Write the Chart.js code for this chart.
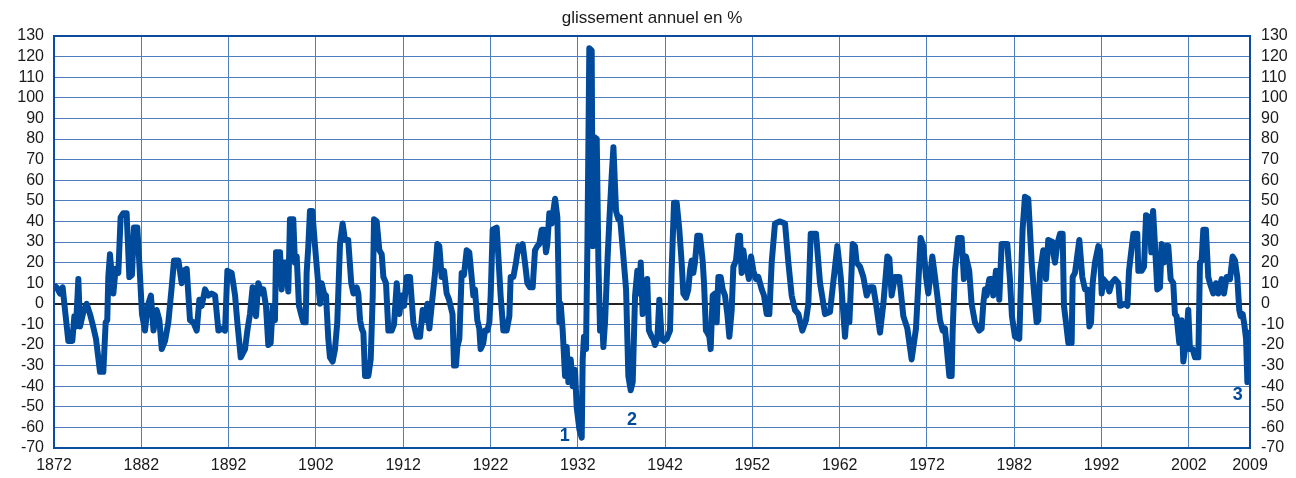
<!DOCTYPE html>
<html>
<head>
<meta charset="utf-8">
<script src="https://cdn.jsdelivr.net/npm/chart.js@4/dist/chart.umd.min.js"></script>
<style>
  html, body { margin: 0; padding: 0; background: #fff; }
  #wrap { width: 1296px; height: 478px; }
</style>
</head>
<body>
<div id="wrap"><canvas id="chart"></canvas></div>
<script>
// glissement annuel en % (1872-2009)
const years = [
  1872.0, 1872.3, 1872.69, 1872.99, 1873.26, 1873.64, 1874.1, 1874.33, 1874.52, 1874.79, 1874.98, 1875.36, 1875.74, 1876.12, 1876.43, 1876.81, 1877.27, 1877.65, 1877.92, 1878.1, 1878.22, 1878.41, 1878.8, 1879.06, 1879.37, 1879.63, 1879.94, 1880.32, 1880.63, 1880.93, 1881.16, 1881.54, 1881.77, 1882.08, 1882.42, 1882.73,
  1883.1, 1883.4, 1883.76, 1884.07, 1884.34, 1884.72, 1885.1, 1885.48, 1885.75, 1886.25, 1886.63, 1886.82, 1887.2, 1887.58, 1887.96, 1888.35, 1888.65, 1888.92, 1889.3, 1889.68, 1890.06, 1890.45, 1890.83, 1891.21, 1891.59, 1891.86, 1892.35, 1892.74, 1893.0, 1893.39, 1893.88, 1894.15, 1894.45,
  1894.75, 1895.14, 1895.4, 1895.79, 1895.98, 1896.28, 1896.55, 1896.82, 1897.05, 1897.31, 1897.43, 1897.89, 1898.08, 1898.27, 1898.57, 1898.84, 1899.03, 1899.41, 1899.6, 1899.8, 1900.06, 1900.37, 1900.56, 1900.83, 1900.94, 1901.13, 1901.32, 1901.59, 1901.9, 1902.16, 1902.47, 1902.66, 1902.93, 1903.16, 1903.42, 1903.61, 1903.92, 1904.19, 1904.45, 1904.76, 1905.06, 1905.33, 1905.7, 1906.05, 1906.3,
  1906.67, 1906.86, 1907.06, 1907.25, 1907.44, 1907.63, 1908.01, 1908.28, 1908.51, 1908.66, 1908.96, 1909.27, 1909.54, 1909.73, 1910.03, 1910.3, 1910.68, 1910.95, 1911.26, 1911.56, 1911.83, 1912.1, 1912.4, 1912.78, 1913.16, 1913.55, 1913.93, 1914.23, 1914.5, 1914.77, 1915.0, 1915.26, 1915.65, 1915.91, 1916.14, 1916.41, 1916.68, 1916.98, 1917.25,
  1917.65, 1917.82, 1918.05, 1918.2, 1918.43, 1918.7, 1918.96, 1919.27, 1919.57, 1919.84, 1920.03, 1920.22, 1920.49, 1920.72, 1920.87, 1921.18, 1921.37, 1921.64, 1921.87, 1922.02, 1922.25, 1922.71, 1922.9, 1923.16, 1923.47, 1923.85, 1924.16, 1924.31, 1924.62, 1924.92, 1925.19, 1925.45, 1925.68, 1925.95, 1926.22, 1926.52, 1926.83, 1927.1, 1927.36, 1927.59, 1927.86, 1928.13, 1928.36, 1928.51, 1928.74, 1929.0, 1929.4,
  1929.66, 1929.89, 1930.04, 1930.27, 1930.54, 1930.73, 1930.92, 1931.19, 1931.42, 1931.68, 1931.87, 1932.18, 1932.45, 1932.56, 1932.71, 1932.94, 1933.1, 1933.32, 1933.59, 1933.71, 1933.86, 1934.17, 1934.36, 1934.55, 1934.74, 1934.93, 1935.12, 1935.39, 1935.62, 1935.88, 1936.08, 1936.38, 1936.65, 1936.84, 1937.22, 1937.53, 1937.79, 1938.06, 1938.29, 1938.56, 1938.82, 1939.05, 1939.21, 1939.43, 1939.7, 1939.95, 1940.15, 1940.47, 1940.65, 1940.84,
  1941.11, 1941.34, 1941.61, 1941.87, 1942.18, 1942.56, 1942.75, 1943.02, 1943.33, 1943.63, 1943.9, 1944.09, 1944.4, 1944.66, 1944.85, 1945.04, 1945.23, 1945.42, 1945.69, 1946.0, 1946.3, 1946.46, 1946.68, 1946.84, 1947.07, 1947.22, 1947.45, 1947.72, 1947.91, 1948.1, 1948.37, 1948.6, 1948.86, 1949.13, 1949.36, 1949.63, 1949.82, 1950.12, 1950.39, 1950.58, 1950.77, 1950.96, 1951.15, 1951.42, 1951.6, 1951.85, 1952.11,
  1952.42, 1952.68, 1953.07, 1953.33, 1953.64, 1953.94, 1954.21, 1954.59, 1955.17, 1955.74, 1956.12, 1956.5, 1956.88, 1957.27, 1957.72, 1958.14, 1958.41, 1958.68, 1959.29, 1959.75, 1959.98, 1960.32, 1960.89, 1961.2, 1961.73, 1962.12, 1962.61, 1962.88, 1963.11,
  1963.49, 1963.75, 1963.94, 1964.33, 1964.71, 1965.09, 1965.47, 1965.85, 1966.16, 1966.62, 1967.0, 1967.46, 1967.69, 1967.95, 1968.33, 1968.83, 1969.29, 1969.75, 1970.24, 1970.74, 1971.01, 1971.27, 1971.58, 1971.89, 1972.15, 1972.61, 1972.92, 1973.18, 1973.49, 1973.8, 1974.06, 1974.56, 1974.83,
  1974.94, 1975.2, 1975.58, 1975.97, 1976.23, 1976.46, 1976.84, 1977.11, 1977.49, 1977.99, 1978.26, 1978.45, 1978.64, 1978.83, 1979.14, 1979.4, 1979.59, 1979.9, 1980.17, 1980.28, 1980.55, 1981.2, 1981.5, 1981.73, 1982.08, 1982.57, 1982.76, 1982.95, 1983.22, 1983.6, 1983.99, 1984.29, 1984.56, 1984.75, 1984.94, 1985.32, 1985.63, 1985.89, 1986.39,
  1986.5, 1986.66, 1986.93, 1987.24, 1987.54, 1987.69, 1987.92, 1988.19, 1988.57, 1988.69, 1988.95, 1989.14, 1989.45, 1989.79, 1990.1, 1990.37, 1990.6, 1990.79, 1990.98, 1991.24, 1991.63, 1991.82, 1992.01, 1992.2, 1992.58, 1992.89, 1993.15, 1993.54, 1993.92, 1994.11, 1994.68, 1994.95, 1995.14, 1995.33, 1995.64, 1996.09, 1996.21, 1996.59, 1996.86, 1997.09, 1997.5, 1997.7, 1997.9,
  1998.11, 1998.38, 1998.69, 1998.88, 1999.14, 1999.37, 1999.64, 1999.91, 2000.21, 2000.4, 2000.59, 2000.9, 2001.17, 2001.36, 2001.66, 2001.93, 2002.12, 2002.43, 2002.7, 2003.08, 2003.27, 2003.46, 2003.65, 2003.95, 2004.22, 2004.41, 2004.8, 2005.1, 2005.37, 2005.75, 2006.02, 2006.32, 2006.71, 2007.01, 2007.28, 2007.54, 2007.77, 2007.93, 2008.16, 2008.35, 2008.55, 2008.7, 2008.82, 2009.0
];

const growth = [
  9, 8, 5, 8, -3, -18, -18, -6, -11, 12, -11, -4, 0, -5, -10, -17, -33, -33, -9, -8, 13, 24, 5, 17, 15, 42, 44, 44, 13, 14, 37, 37, 20, -5, -13, -1,
  4, -13, -3, -8, -22, -18, -9, 8, 21, 21, 10, 16, 17, -8, -9, -13, 2, -1, 7, 4, 5, 4, -13, -12, -13, 16, 15, 4, -9, -26, -22, -13, -5,
  8, -6, 10, 5, 7, -1, -20, -19, -1, -8, 25, 25, 7, 20, 20, 6, 41, 41, 20, 23, -1, -6, -9, -9, 15, 28, 45, 45, 28, 15, 0, 10, 5, 4, -17, -26, -28, -22, -9, 29, 39, 31, 31, 10, 5,
  8, 5, -8, -12, -14, -35, -35, -27, 4, 41, 40, 26, 24, 13, 10, -13, -13, -10, 10, -5, 4, -1, 13, 13, -9, -16, -16, -3, -8, 0, -12, -1, 15, 29, 28, 13, 16, 5, 2,
  -5, -30, -30, -21, -17, 15, 14, 26, 25, 13, 4, 7, -8, -12, -22, -19, -13, -13, -9, 4, 36, 37, 23, 4, -13, -13, -6, 13, 13, 20, 28, 26, 29, 20, 10, 8, 8, 26, 28, 29, 36, 36, 25, 29, 44, 39, 51,
  42, -9, 0, -13, -35, -21, -38, -27, -40, -32, -50, -61, -65, -27, -16, -22, 28, 124, 123, 28, 81, 80, 20, -13, -3, -21, -9, 20, 41, 62, 76, 45, 41, 42, 23, 7, -35, -42, -38, 4, 16, 5, 20, -5, 0, 12, -13, -16, -17, -20,
  -17, 2, -17, -18, -17, -13, 16, 49, 49, 36, 20, 5, 3, 7, 16, 21, 15, 20, 33, 33, 21, 10, -13, -14, -16, -22, 4, 5, -9, 13, 13, 7, 4, -5, -16, -3, 18, 21, 33, 33, 15, 26, 20, 16, 12, 23, 16,
  12, 13, 7, 4, -5, -5, 20, 39, 40, 39, 20, 4, -3, -5, -13, -8, 0, 34, 34, 10, 4, -5, -4, 8, 28, 13, -16, -1, -9,
  29, 28, 20, 18, 13, 4, 8, 8, 0, -14, 0, 23, 22, 4, 13, 13, -6, -12, -27, -12, 10, 32, 28, 13, 5, 23, 13, 4, -8, -13, -12, -35, -35,
  -13, 16, 32, 32, 12, 23, 16, 0, -9, -13, -12, 0, 7, 4, 12, 12, 4, 16, 15, 2, 29, 29, 12, -6, -16, -17, 10, 36, 52, 51, 20, 4, -9, -8, 15, 26, 12, 31, 30,
  24, 20, 29, 34, 34, -1, -9, -19, -19, 13, 15, 21, 31, 13, 7, 7, -11, -9, 10, 20, 28, 26, 5, 12, 10, 6, 10, 12, 10, -1, 0, -1, 16, 23, 34, 34, 16, 16, 18, 43, 42, 25, 45,
  29, 7, 8, 29, 20, 28, 28, 12, 10, -5, -6, -19, -8, -28, -19, -3, -22, -22, -26, -26, 20, 21, 36, 36, 13, 10, 5, 10, 5, 12, 5, 13, 12, 23, 21, 13, -3, -6, -5, -10, -17, -38, -14, -39
];

const yearTicks = [1872, 1882, 1892, 1902, 1912, 1922, 1932, 1942, 1952, 1962, 1972, 1982, 1992, 2002, 2009];
const title = 'glissement annuel en %';
const callouts = [
  { text: '1', year: 1930.5, value: -64 },
  { text: '2', year: 1938.2, value: -56.5 },
  { text: '3', year: 2007.6, value: -44.5 }
];

const BLUE = '#004a9c';
const GRID = '#4f7dbb';
const TEXT = '#1a1a1a';
const FONT = '"Liberation Sans", Arial, Helvetica, sans-serif';

const overlay = {
    id: 'overlay',
    afterDatasetsDraw(chart) {
        const { ctx, chartArea: a, scales } = chart;
        ctx.save();
        // plot frame
        ctx.strokeStyle = '#0b4c9e';
        ctx.lineWidth = 2;
        ctx.strokeRect(a.left, a.top, a.right - a.left, a.bottom - a.top);
        // numbered markers
        ctx.fillStyle = BLUE;
        ctx.font = 'bold 18px ' + FONT;
        ctx.textAlign = 'center';
        ctx.textBaseline = 'middle';
        callouts.forEach(c => {
            ctx.fillText(c.text, scales.x.getPixelForValue(c.year), scales.y.getPixelForValue(c.value));
        });
        // title
        ctx.fillStyle = TEXT;
        ctx.font = '17px ' + FONT;
        ctx.fillText(title, (a.left + a.right) / 2, 18);
        ctx.restore();
    }
};

const yTicks = {
    stepSize: 10, color: TEXT, padding: 10, autoSkip: false,
    font: { family: FONT, size: 16 },
    callback: v => String(v)
};

new Chart(document.getElementById('chart'), {
    type: 'line',
    data: {
        datasets: [{
            data: years.map((y, i) => ({ x: y, y: growth[i] })),
            borderColor: BLUE,
            borderWidth: 6,
            borderJoinStyle: 'round',
            pointRadius: 0,
            tension: 0,
            fill: false
        }]
    },
    options: {
        responsive: true,
        maintainAspectRatio: false,
        animation: false,
        layout: { padding: { top: 36, left: 0, right: 0, bottom: 0 } },
        plugins: { legend: { display: false }, tooltip: { enabled: false }, title: { display: false } },
        scales: {
            x: {
                type: 'linear', min: 1872, max: 2009,
                afterBuildTicks: s => { s.ticks = yearTicks.map(v => ({ value: v })); },
                afterFit: s => { s.height = 30; },
                grid: { color: GRID, lineWidth: 1, drawTicks: false },
                border: { display: false },
                ticks: { color: TEXT, padding: 8, autoSkip: false, maxRotation: 0, font: { family: FONT, size: 16 }, callback: v => String(v) }
            },
            y: {
                position: 'left', min: -70, max: 130,
                afterFit: s => { s.width = 54; },
                grid: {
                    drawTicks: false,
                    color: c => c.tick.value === 0 ? '#222' : GRID,
                    lineWidth: c => c.tick.value === 0 ? 2 : 1
                },
                border: { display: false },
                ticks: yTicks
            },
            y2: {
                position: 'right', min: -70, max: 130,
                afterFit: s => { s.width = 46; },
                grid: { drawOnChartArea: false, drawTicks: false },
                border: { display: false },
                ticks: Object.assign({}, yTicks, { padding: 11 })
            }
        }
    },
    plugins: [overlay]
});
</script>
</body>
</html>
